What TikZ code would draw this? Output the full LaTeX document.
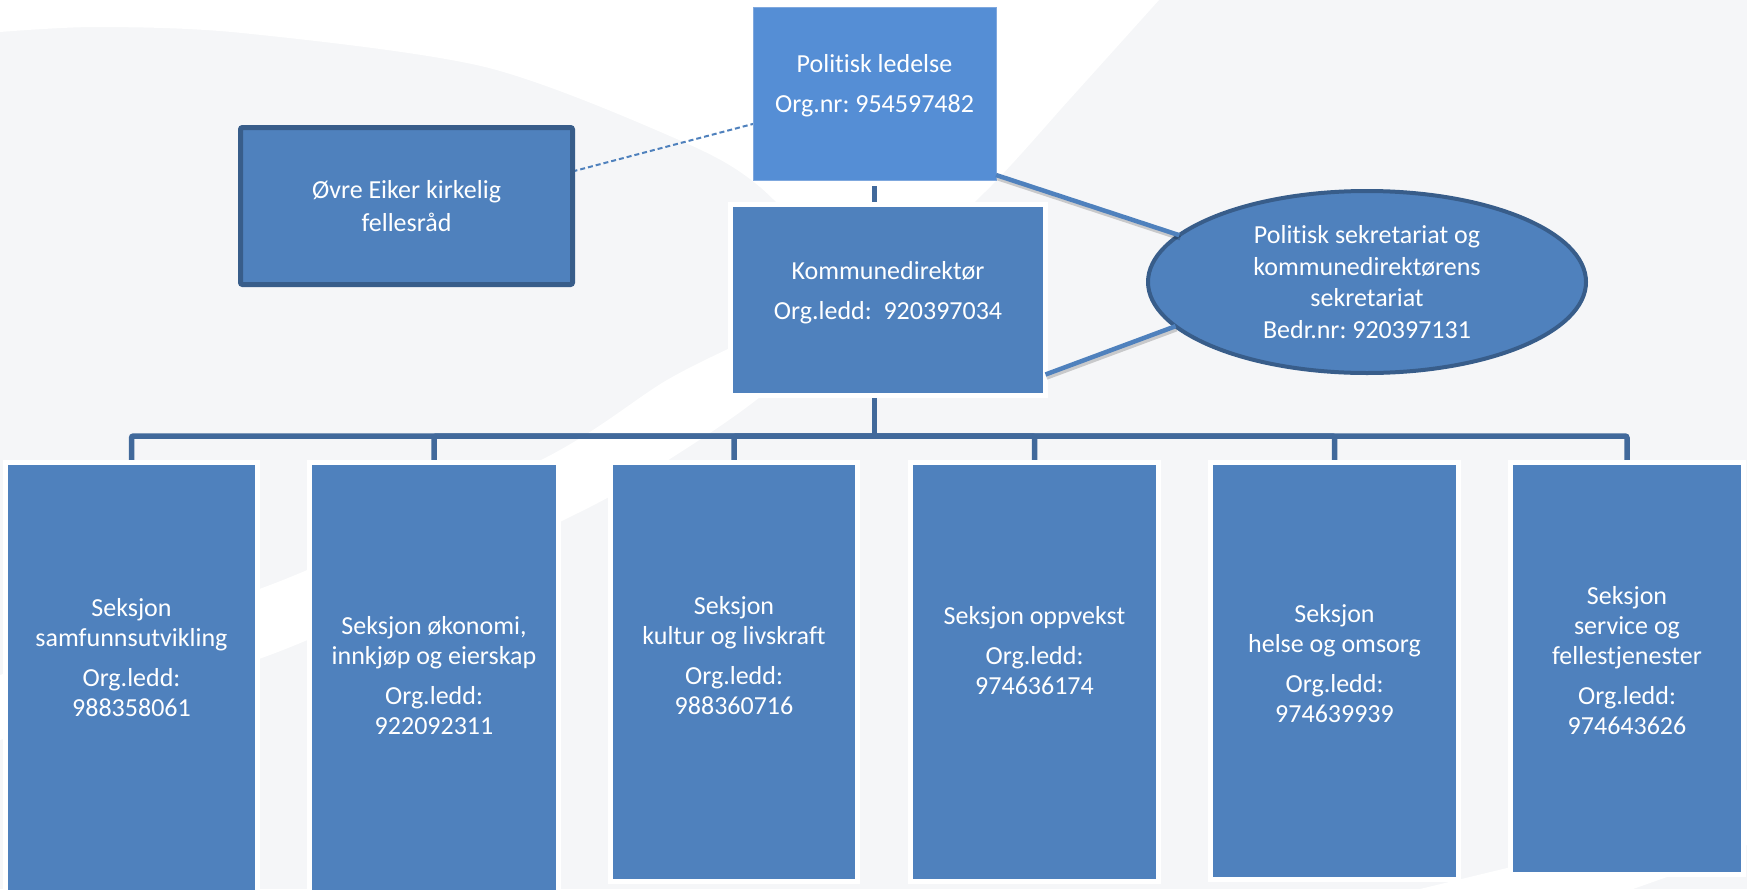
\documentclass[tikz,border=0pt]{standalone}
\usepackage{fontspec}
\setmainfont{Carlito}[Ligatures=NoCommon]
\frenchspacing
\usetikzlibrary{shapes.geometric,calc}
\definecolor{bggrey}{HTML}{F5F6F8}
\definecolor{boxblue}{HTML}{4F81BD}
\definecolor{polblue}{HTML}{558ED5}
\definecolor{polline}{HTML}{7FA8DE}
\definecolor{darkblue}{HTML}{385D8A}
\definecolor{busblue}{HTML}{41699B}
\pgfdeclarelayer{bglayer}
\pgfdeclarelayer{connlayer}
\pgfsetlayers{bglayer,connlayer,main}
\tikzset{
  sectbox/.style={rectangle, fill=boxblue, draw=white, line width=5pt, inner sep=0pt, outer sep=0pt},
  polbox/.style={rectangle, fill=polblue, draw=polline, line width=1pt, inner sep=0pt, outer sep=0pt},
  ovrebox/.style={rectangle, fill=boxblue, draw=darkblue, line width=5pt, rounded corners=2pt, inner sep=0pt, outer sep=0pt,
    text=white, align=center, font=\fontsize{26}{33}\selectfont},
  ellbox/.style={ellipse, fill=boxblue, draw=darkblue, line width=4pt, inner sep=0pt, outer sep=0pt,
    text=white, align=center, font=\fontsize{26}{31.7}\selectfont},
  lbl/.style={text=white, align=center, font=\fontsize{26}{30}\selectfont, inner sep=0pt},
  busline/.style={draw=busblue, line width=5.5pt, rounded corners=2pt},
  ellconn/.style={draw=boxblue, line width=4.5pt},
  shadowconn/.style={draw=black, opacity=0.18, line width=4.5pt},
  dashconn/.style={draw=boxblue, line width=2pt, dash pattern=on 5pt off 3pt},
}
\begin{document}
\begin{tikzpicture}[x=1pt,y=-1pt]
\useasboundingbox (0,0) rectangle (1747,889);

% ---- nodes ----
\node[polbox, minimum width=243pt, minimum height=173pt] (pol) at (874.5,93.5) {};
\node[lbl] (tpol) at (874.5,86) {Politisk ledelse\\[10pt]Org.nr: 954597482};

\node[sectbox, minimum width=315pt, minimum height=191pt] (kd) at (888,300) {};
\node[lbl] (tkd) at (888,293) {Kommunedirektør\\[10pt]Org.ledd:\ \ 920397034};

\node[ovrebox, minimum width=332pt, minimum height=157pt] (ovre) at (406.5,206) {Øvre Eiker kirkelig\\fellesråd};

\node[ellbox, minimum width=438pt, minimum height=182pt] (ell) at (1367,282)
  {Politisk sekretariat og\\kommunedirektørens\\sekretariat\\Bedr.nr: 920397131};

\node[sectbox, minimum width=252pt, minimum height=445pt] (s1) at (131.5,685) {};
\node[sectbox, minimum width=249pt, minimum height=445pt] (s2) at (434,685) {};
\node[sectbox, minimum width=247pt, minimum height=419pt] (s3) at (734,672) {};
\node[sectbox, minimum width=248pt, minimum height=419pt] (s4) at (1034.5,672) {};
\node[sectbox, minimum width=248pt, minimum height=417pt] (s5) at (1334.5,671) {};
\node[sectbox, minimum width=233pt, minimum height=412pt] (s6) at (1627,668.5) {};

\node[lbl] (t1) at (131.5,658) {Seksjon\\samfunnsutvikling\\[10pt]Org.ledd:\\988358061};
\node[lbl] (t2) at (434,676) {Seksjon økonomi,\\innkjøp og eierskap\\[10pt]Org.ledd:\\922092311};
\node[lbl] (t3) at (734,656) {Seksjon\\kultur og livskraft\\[10pt]Org.ledd:\\988360716};
\node[lbl] (t4) at (1034.5,651) {Seksjon oppvekst\\[10pt]Org.ledd:\\974636174};
\node[lbl] (t5) at (1334.5,664) {Seksjon\\helse og omsorg\\[10pt]Org.ledd:\\974639939};
\node[lbl] (t6) at (1627,661) {Seksjon\\service og\\fellestjenester\\[10pt]Org.ledd:\\974643626};

\coordinate (busc) at (874.5,436);

% ---- background ----
\begin{pgfonlayer}{bglayer}
\fill[bggrey] (0,0) rectangle (1747,889);
\fill[white] (0,0) -- (1159,0)
  -- plot[smooth] coordinates {(1159,0) (1069,100) (990,187) (870,300) (760,397) (673,457) (580,512) (283,650) (0,740)}
  -- (0,675)
  -- plot[smooth] coordinates {(0,675) (283,580) (547,457) (667,380) (760,333) (850,282)}
  -- plot[smooth] coordinates {(850,282) (760,187) (679,140) (485,67) (242,33) (97,27) (0,32)}
  -- cycle;
\fill[white] (1420,889) -- (1507,868) -- (1747,790) -- (1747,845) -- (1667,877) -- (1633,889) -- cycle;
\end{pgfonlayer}

% ---- connectors under the boxes ----
\begin{pgfonlayer}{connlayer}
\draw[dashconn] ($(ovre.north east)!0.28!(ovre.south east)$) -- ($(pol.north west)!0.676!(pol.south west)$);
\draw[busline] (pol.south) ++(0,6) -- (pol.south |- kd.north);
\draw[busline] (pol.south |- kd.south) -- (busc);
\foreach \s in {s1,s2,s3,s4,s5,s6}{
  \draw[busline] (busc) -| (\s.north);
}
\end{pgfonlayer}

% ---- connectors to the ellipse ----
\coordinate (pa) at ($(pol.south east)+(0,-5)$);
\coordinate (ka) at ($(kd.north east)!0.89!(kd.south east)$);
\draw[shadowconn] ($(pa)+(1,3)$) -- ($(ell.166.7)+(1,3)$);
\draw[shadowconn] ($(ka)+(1,3)$) -- ($(ell.193.3)+(1,3)$);
\draw[ellconn] (pa) -- (ell.166.7);
\draw[ellconn] (ka) -- (ell.193.3);
\end{tikzpicture}
\end{document}
